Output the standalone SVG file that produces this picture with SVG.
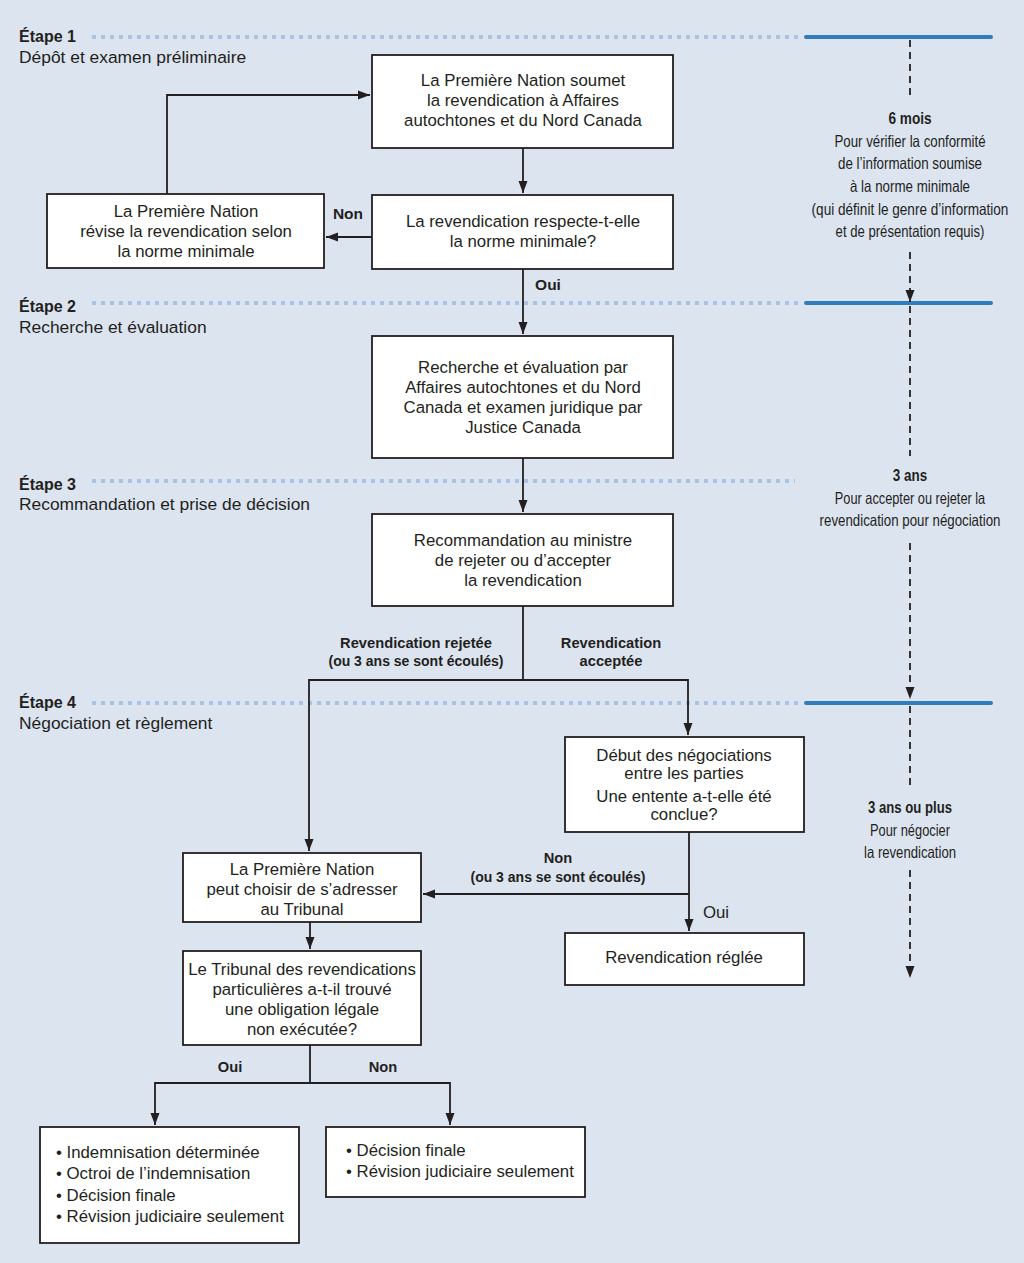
<svg xmlns="http://www.w3.org/2000/svg" width="1024" height="1263" viewBox="0 0 1024 1263">
<style>
.bg{fill:#dce4f0}
.box{fill:#fff;stroke:#231f20;stroke-width:1.8}
.t{font-family:"Liberation Sans",Arial,sans-serif;font-size:16.8px;fill:#231f20}
.c{text-anchor:middle}
.b{font-weight:bold}
.lab{font-family:"Liberation Sans",Arial,sans-serif;font-size:14.7px;font-weight:bold;fill:#231f20;text-anchor:middle}
.par{font-size:14px}
.st{font-family:"Liberation Sans",Arial,sans-serif;font-size:16px;font-weight:bold;fill:#231f20}
.ss{font-family:"Liberation Sans",Arial,sans-serif;font-size:17.4px;fill:#231f20}
.rc{font-family:"Liberation Sans",Arial,sans-serif;font-size:16.5px;fill:#231f20;text-anchor:middle}
.dot{stroke:#a9c3e2;stroke-width:4;stroke-dasharray:4 5;fill:none}
.blue{stroke:#2f7dbf;stroke-width:4;stroke-linecap:round;fill:none}
.ln{stroke:#231f20;stroke-width:1.8;fill:none}
.dash{stroke:#231f20;stroke-width:1.8;stroke-dasharray:7 5;fill:none}
</style>
<defs>
<marker id="ah" markerUnits="userSpaceOnUse" markerWidth="13" markerHeight="10" refX="12" refY="5" orient="auto">
<path d="M0,0.5 L12,5 L0,9.5 z" fill="#231f20"/>
</marker>
</defs>
<rect class="bg" x="0" y="0" width="1024" height="1263"/>

<g id="stages">
<line class="dot" x1="92" y1="37" x2="800" y2="37"/>
<line class="blue" x1="806" y1="37" x2="991" y2="37"/>
<text class="st" x="19" y="42">Étape 1</text>
<text class="ss" x="19" y="63">Dépôt et examen préliminaire</text>
<line class="dot" x1="92" y1="303" x2="800" y2="303"/>
<line class="blue" x1="806" y1="303" x2="991" y2="303"/>
<text class="st" x="19" y="312">Étape 2</text>
<text class="ss" x="19" y="333">Recherche et évaluation</text>
<line class="dot" x1="92" y1="481" x2="795" y2="481"/>
<text class="st" x="19" y="490">Étape 3</text>
<text class="ss" x="19" y="510">Recommandation et prise de décision</text>
<line class="dot" x1="92" y1="703" x2="800" y2="703"/>
<line class="blue" x1="806" y1="703" x2="991" y2="703"/>
<text class="st" x="19" y="708">Étape 4</text>
<text class="ss" x="19" y="729">Négociation et règlement</text>
</g>

<g id="timeline">
<line class="dash" x1="910" y1="40" x2="910" y2="100"/>
<line class="dash" x1="910" y1="252" x2="910" y2="302" marker-end="url(#ah)"/>
<line class="dash" x1="910" y1="306" x2="910" y2="456"/>
<line class="dash" x1="910" y1="543" x2="910" y2="699" marker-end="url(#ah)"/>
<line class="dash" x1="910" y1="706" x2="910" y2="790"/>
<line class="dash" x1="910" y1="870" x2="910" y2="978" marker-end="url(#ah)"/>
<g transform="translate(910,0) scale(0.8,1)">
<text class="rc b" x="0" y="124" textLength="54" lengthAdjust="spacingAndGlyphs">6 mois</text>
<text class="rc" x="0" y="147" textLength="189" lengthAdjust="spacingAndGlyphs">Pour vérifier la conformité</text>
<text class="rc" x="0" y="169" textLength="180" lengthAdjust="spacingAndGlyphs">de l’information soumise</text>
<text class="rc" x="0" y="192" textLength="150" lengthAdjust="spacingAndGlyphs">à la norme minimale</text>
<text class="rc" x="0" y="215" textLength="246" lengthAdjust="spacingAndGlyphs">(qui définit le genre d’information</text>
<text class="rc" x="0" y="237" textLength="186" lengthAdjust="spacingAndGlyphs">et de présentation requis)</text>
<text class="rc b" x="0" y="481" textLength="43" lengthAdjust="spacingAndGlyphs">3 ans</text>
<text class="rc" x="0" y="504" textLength="188" lengthAdjust="spacingAndGlyphs">Pour accepter ou rejeter la</text>
<text class="rc" x="0" y="526" textLength="226" lengthAdjust="spacingAndGlyphs">revendication pour négociation</text>
<text class="rc b" x="0" y="813" textLength="105" lengthAdjust="spacingAndGlyphs">3 ans ou plus</text>
<text class="rc" x="0" y="836" textLength="100" lengthAdjust="spacingAndGlyphs">Pour négocier</text>
<text class="rc" x="0" y="858" textLength="115" lengthAdjust="spacingAndGlyphs">la revendication</text>
</g>
</g>

<g id="connectors">
<polyline class="ln" points="167,194 167,95 370,95" marker-end="url(#ah)"/>
<line class="ln" x1="523" y1="148" x2="523" y2="193" marker-end="url(#ah)"/>
<line class="ln" x1="372" y1="237" x2="326" y2="237" marker-end="url(#ah)"/>
<line class="ln" x1="523" y1="269" x2="523" y2="334" marker-end="url(#ah)"/>
<line class="ln" x1="523" y1="458" x2="523" y2="512" marker-end="url(#ah)"/>
<line class="ln" x1="523" y1="606" x2="523" y2="680"/>
<polyline class="ln" points="523,680 309,680 309,851" marker-end="url(#ah)"/>
<polyline class="ln" points="523,680 688,680 688,735" marker-end="url(#ah)"/>
<line class="ln" x1="689" y1="832" x2="689" y2="931" marker-end="url(#ah)"/>
<line class="ln" x1="689" y1="894" x2="423" y2="894" marker-end="url(#ah)"/>
<line class="ln" x1="310" y1="922" x2="310" y2="949" marker-end="url(#ah)"/>
<line class="ln" x1="310" y1="1045" x2="310" y2="1083"/>
<polyline class="ln" points="310,1083 155,1083 155,1125" marker-end="url(#ah)"/>
<polyline class="ln" points="310,1083 450,1083 450,1125" marker-end="url(#ah)"/>
<text class="lab" x="348" y="219" style="font-size:15.5px">Non</text>
<text class="lab" x="548" y="290" style="font-size:15.5px">Oui</text>
<text class="lab" x="416" y="648">Revendication rejetée</text>
<text class="lab par" x="416" y="666">(ou 3 ans se sont écoulés)</text>
<text class="lab" x="611" y="648">Revendication</text>
<text class="lab" x="611" y="666">acceptée</text>
<text class="lab" x="558" y="863">Non</text>
<text class="lab par" x="558" y="882">(ou 3 ans se sont écoulés)</text>
<text class="t c" x="716" y="918">Oui</text>
<text class="lab" x="230" y="1072">Oui</text>
<text class="lab" x="383" y="1072">Non</text>
</g>

<g id="n-soumet">
<rect class="box" x="372" y="55" width="301" height="93"/>
<text class="t c" x="523" y="86">La Première Nation soumet</text>
<text class="t c" x="523" y="106">la revendication à Affaires</text>
<text class="t c" x="523" y="126">autochtones et du Nord Canada</text>
</g>
<g id="n-norme">
<rect class="box" x="372" y="195" width="301" height="74"/>
<text class="t c" x="523" y="227">La revendication respecte-t-elle</text>
<text class="t c" x="523" y="247">la norme minimale?</text>
</g>
<g id="n-revise">
<rect class="box" x="47" y="194" width="277" height="74"/>
<text class="t c" x="186" y="217">La Première Nation</text>
<text class="t c" x="186" y="237">révise la revendication selon</text>
<text class="t c" x="186" y="257">la norme minimale</text>
</g>
<g id="n-recherche">
<rect class="box" x="372" y="336" width="301" height="122"/>
<text class="t c" x="523" y="373">Recherche et évaluation par</text>
<text class="t c" x="523" y="393">Affaires autochtones et du Nord</text>
<text class="t c" x="523" y="413">Canada et examen juridique par</text>
<text class="t c" x="523" y="433">Justice Canada</text>
</g>
<g id="n-recommandation">
<rect class="box" x="372" y="514" width="301" height="92"/>
<text class="t c" x="523" y="546">Recommandation au ministre</text>
<text class="t c" x="523" y="566">de rejeter ou d’accepter</text>
<text class="t c" x="523" y="586">la revendication</text>
</g>
<g id="n-negociations">
<rect class="box" x="565" y="737" width="239" height="95"/>
<text class="t c" x="684" y="761">Début des négociations</text>
<text class="t c" x="684" y="779">entre les parties</text>
<text class="t c" x="684" y="802">Une entente a-t-elle été</text>
<text class="t c" x="684" y="820">conclue?</text>
</g>
<g id="n-tribunal-choix">
<rect class="box" x="183" y="853" width="238" height="69"/>
<text class="t c" x="302" y="875">La Première Nation</text>
<text class="t c" x="302" y="895">peut choisir de s’adresser</text>
<text class="t c" x="302" y="915">au Tribunal</text>
</g>
<g id="n-reglee">
<rect class="box" x="565" y="933" width="239" height="52"/>
<text class="t c" x="684" y="963">Revendication réglée</text>
</g>
<g id="n-tribunal">
<rect class="box" x="183" y="951" width="238" height="94"/>
<text class="t c" x="302" y="975">Le Tribunal des revendications</text>
<text class="t c" x="302" y="995">particulières a-t-il trouvé</text>
<text class="t c" x="302" y="1015">une obligation légale</text>
<text class="t c" x="302" y="1035">non exécutée?</text>
</g>
<g id="n-oui">
<rect class="box" x="40" y="1127" width="259" height="116"/>
<text class="t" x="56" y="1158">• Indemnisation déterminée</text>
<text class="t" x="56" y="1179">• Octroi de l’indemnisation</text>
<text class="t" x="56" y="1201">• Décision finale</text>
<text class="t" x="56" y="1222">• Révision judiciaire seulement</text>
</g>
<g id="n-non">
<rect class="box" x="326" y="1127" width="259" height="70"/>
<text class="t" x="346" y="1156">• Décision finale</text>
<text class="t" x="346" y="1177">• Révision judiciaire seulement</text>
</g>
</svg>
